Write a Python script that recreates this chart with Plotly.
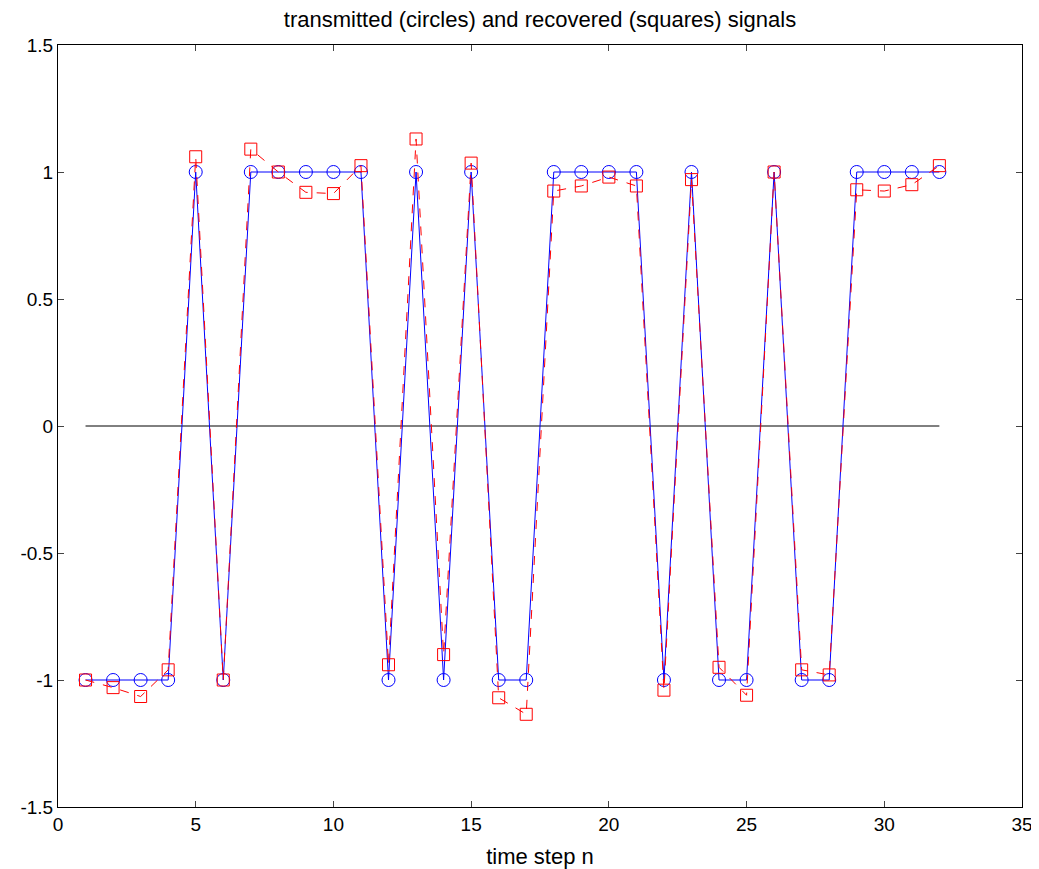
import plotly.graph_objects as go

n = list(range(1, 33))
transmitted = [-1, -1, -1, -1, 1, -1, 1, 1, 1, 1, 1, -1, 1, -1, 1, -1, -1,
               1, 1, 1, 1, -1, 1, -1, -1, 1, -1, -1, 1, 1, 1, 1]
recovered = [-1.0, -1.03, -1.065, -0.96, 1.06, -1.0, 1.09, 1.0, 0.92, 0.915, 1.025,
             -0.94, 1.13, -0.9, 1.035, -1.07, -1.135, 0.925, 0.945, 0.98, 0.945,
             -1.04, 0.97, -0.95, -1.06, 1.0, -0.96, -0.98, 0.93, 0.925, 0.95, 1.025]
zero_x = [1, 32]
zero_y = [0, 0]
x_ticks = [0, 5, 10, 15, 20, 25, 30, 35]
y_ticks = [-1.5, -1, -0.5, 0, 0.5, 1, 1.5]
y_tick_text = ["-1.5", "-1", "-0.5", "0", "0.5", "1", "1.5"]

fig = go.Figure()
fig.add_trace(go.Scatter(x=zero_x, y=zero_y, mode="lines",
                         line=dict(color="black", width=1), showlegend=False))
fig.add_trace(go.Scatter(x=n, y=transmitted, mode="lines+markers",
                         line=dict(color="blue", width=1),
                         marker=dict(symbol="circle-open", size=13, color="blue", line=dict(width=1)),
                         showlegend=False))
fig.add_trace(go.Scatter(x=n, y=recovered, mode="lines+markers",
                         line=dict(color="red", width=1, dash="dash"),
                         marker=dict(symbol="square-open", size=12, color="red", line=dict(width=1)),
                         showlegend=False))

fig.update_layout(
    width=1039, height=869,
    margin=dict(l=48, r=25, t=37, b=70),
    paper_bgcolor="white", plot_bgcolor="white",
    font=dict(family="Arial, Liberation Sans", size=19, color="black"),
    title=dict(text="transmitted (circles) and recovered (squares) signals",
               x=0.5, xref="paper", xanchor="center", y=1, yref="paper", yanchor="bottom",
               pad=dict(b=18), font=dict(size=22)),
)
fig.update_xaxes(range=[0, 35], tickvals=x_ticks, ticks="inside", ticklen=6,
                 showline=True, linecolor="black", linewidth=1, mirror="ticks",
                 showgrid=False, zeroline=False,
                 title=dict(text="time step n", standoff=14, font=dict(size=22)))
fig.update_yaxes(range=[-1.5, 1.5], tickvals=y_ticks, ticktext=y_tick_text,
                 ticks="inside", ticklen=6,
                 showline=True, linecolor="black", linewidth=1, mirror="ticks",
                 showgrid=False, zeroline=False)

fig.write_html("out.html")
